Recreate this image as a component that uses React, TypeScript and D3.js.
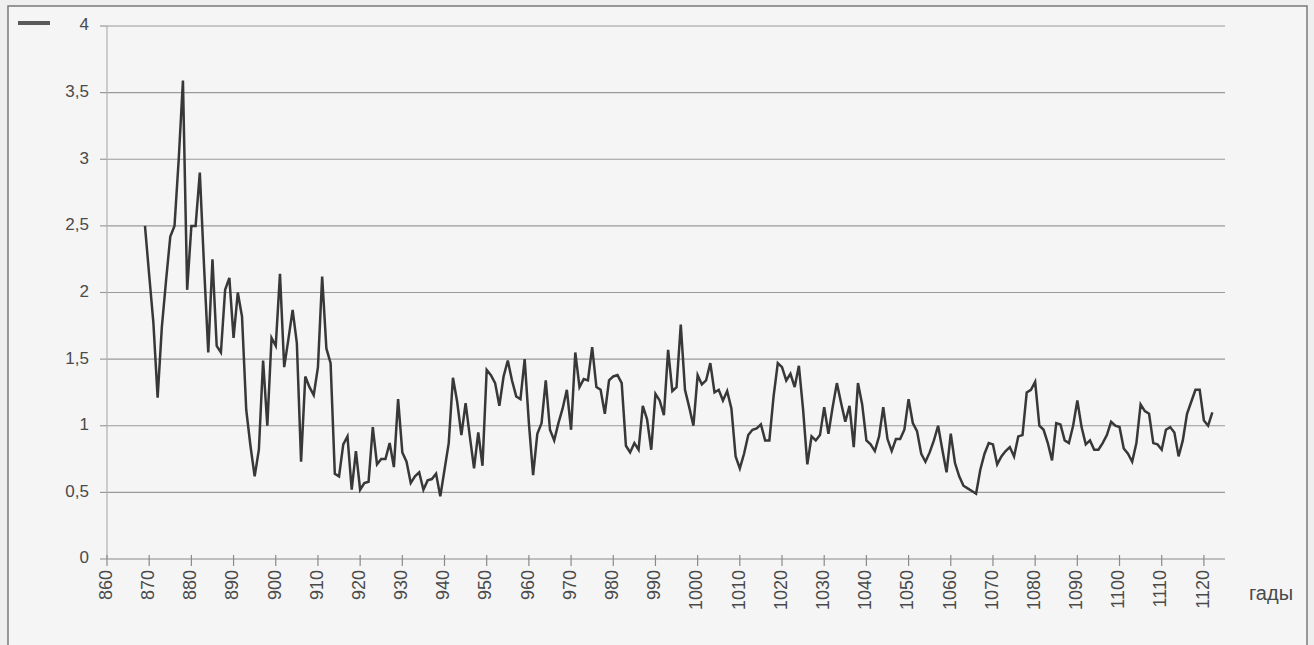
import React from 'react';
import * as d3 from 'd3';

// yearly values, first point is 869, last 1122
const startYear = 869;
const values: number[] = [
  2.5, 2.13, 1.77, 1.21, 1.74, 2.09, 2.42, 2.5, 3.0, 3.59,
  2.02, 2.5, 2.5, 2.9, 2.2, 1.55, 2.25, 1.6, 1.55, 2.02,
  2.11, 1.66, 2.0, 1.82, 1.12, 0.85, 0.62, 0.82, 1.49, 1.0,
  1.66, 1.6, 2.14, 1.44, 1.65, 1.87, 1.62, 0.73, 1.37, 1.29,
  1.23, 1.44, 2.12, 1.58, 1.47, 0.64, 0.62, 0.86, 0.92, 0.52,
  0.81, 0.52, 0.57, 0.58, 0.99, 0.71, 0.75, 0.75, 0.87, 0.69,
  1.2, 0.8, 0.73, 0.57, 0.62, 0.65, 0.52, 0.59, 0.6, 0.64,
  0.47, 0.67, 0.87, 1.36, 1.18, 0.93, 1.17, 0.92, 0.68, 0.95,
  0.7, 1.42, 1.38, 1.32, 1.15, 1.37, 1.49, 1.34, 1.22, 1.2,
  1.5, 1.02, 0.63, 0.94, 1.02, 1.34, 0.97, 0.89, 1.02, 1.13,
  1.27, 0.97, 1.55, 1.29, 1.35, 1.34, 1.59, 1.29, 1.27, 1.09,
  1.34, 1.37, 1.38, 1.32, 0.85, 0.8, 0.87, 0.82, 1.15, 1.05,
  0.82, 1.24, 1.19, 1.08, 1.57, 1.26, 1.29, 1.76, 1.27, 1.14,
  1.0, 1.38, 1.31, 1.34, 1.47, 1.25, 1.27, 1.19, 1.26, 1.13,
  0.77, 0.68, 0.79, 0.93, 0.97, 0.98, 1.01, 0.89, 0.89, 1.22,
  1.47, 1.44, 1.34, 1.39, 1.29, 1.45, 1.12, 0.71, 0.92, 0.89,
  0.93, 1.14, 0.94, 1.14, 1.32, 1.17, 1.03, 1.15, 0.84, 1.32,
  1.16, 0.89, 0.86, 0.81, 0.92, 1.14, 0.9, 0.81, 0.9, 0.9,
  0.97, 1.2, 1.02, 0.96, 0.79, 0.73, 0.8, 0.89, 1.0, 0.82,
  0.65, 0.94, 0.72, 0.62, 0.55, 0.53, 0.51, 0.49, 0.67, 0.79,
  0.87, 0.86, 0.71, 0.77, 0.81, 0.84, 0.77, 0.92, 0.93, 1.25,
  1.27, 1.33, 1.0, 0.97, 0.87, 0.74, 1.02, 1.01, 0.89, 0.87,
  1.0, 1.19, 0.99, 0.86, 0.89, 0.82, 0.82, 0.87, 0.93, 1.03,
  1.0, 0.99, 0.83, 0.79, 0.73, 0.87, 1.16, 1.11, 1.09, 0.87,
  0.86, 0.82, 0.97, 0.99, 0.95, 0.77, 0.89, 1.09, 1.18, 1.27,
  1.27, 1.04, 1.0, 1.1,
];

const xTicks = [
  860, 870, 880, 890, 900, 910, 920, 930, 940, 950, 960, 970, 980, 990,
  1000, 1010, 1020, 1030, 1040, 1050, 1060, 1070, 1080, 1090, 1100, 1110, 1120,
];
const yTicks = [0, 0.5, 1, 1.5, 2, 2.5, 3, 3.5, 4];
const yTickLabels = ['0', '0,5', '1', '1,5', '2', '2,5', '3', '3,5', '4'];
const xTitle = 'гады';

const W = 1314;
const H = 645;
const font = '"Liberation Sans", Arial, sans-serif';

export default function App() {
  const x = d3.scaleLinear().domain([860, 1125]).range([107, 1225]);
  const y = d3.scaleLinear().domain([0, 4]).range([559, 26]);

  const line = d3.line<number>()
    .x((_, i) => x(startYear + i))
    .y(d => y(d));

  return (
    <svg width={W} height={H} style={{ position: 'absolute', left: 0, top: 0 }}>
      <rect x={0} y={0} width={W} height={H} fill="#efefef" />
      <rect x={8} y={6} width={1299} height={H} fill="#f5f5f5" stroke="#7a7a7a" strokeWidth={1.5} />

      {/* legend key, label cut off */}
      <line x1={18} x2={50} y1={23} y2={23} stroke="#5a5a5a" strokeWidth={4} />

      {/* gridlines */}
      {yTicks.map(t => (
        <g key={t}>
          <line x1={x(860)} x2={x(1125)} y1={y(t)} y2={y(t)}
            stroke={t === 0 ? '#8a8a8a' : '#9a9a9a'} strokeWidth={1.2} />
          <line x1={100} x2={107} y1={y(t)} y2={y(t)} stroke="#9a9a9a" strokeWidth={1.2} />
        </g>
      ))}
      <line x1={107} x2={107} y1={y(4)} y2={y(0)} stroke="#b0b0b0" strokeWidth={1.2} />

      {yTicks.map((t, i) => (
        <text key={t} x={89} y={y(t)} textAnchor="end" dominantBaseline="middle"
          fontFamily={font} fontSize={17} fill="#4a4a4a">{yTickLabels[i]}</text>
      ))}

      {xTicks.map(t => (
        <g key={t}>
          <line x1={x(t)} x2={x(t)} y1={555} y2={566} stroke="#8a8a8a" strokeWidth={1.2} />
          <text transform={`translate(${x(t)},570) rotate(-90)`} textAnchor="end"
            dominantBaseline="middle" fontFamily={font} fontSize={18} fill="#4a4a4a">{t}</text>
        </g>
      ))}
      <text x={1249} y={600} fontFamily={font} fontSize={20} fill="#4a4a4a">{xTitle}</text>

      <path d={line(values) ?? ''} fill="none" stroke="#383838" strokeWidth={2.5}
        strokeLinejoin="miter" strokeMiterlimit={4} />
    </svg>
  );
}
